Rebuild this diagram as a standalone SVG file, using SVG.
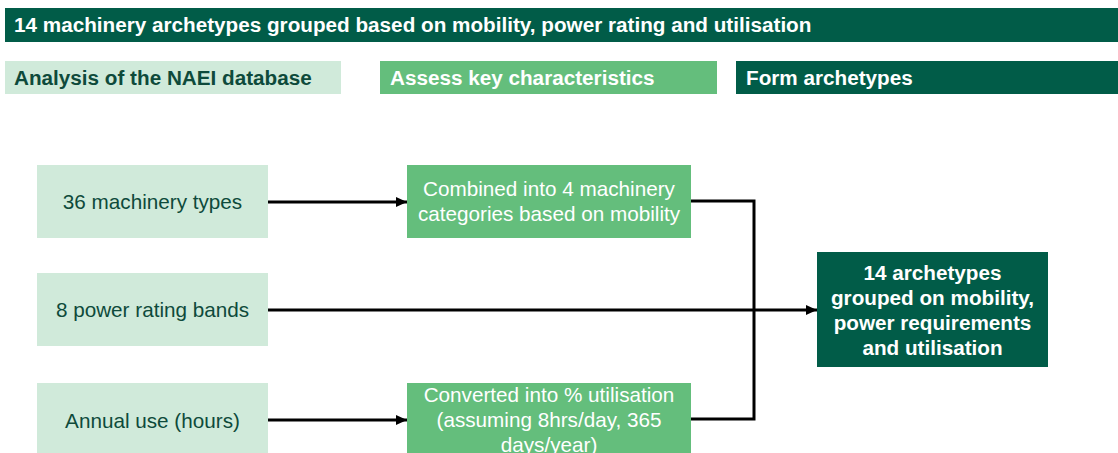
<svg xmlns="http://www.w3.org/2000/svg" width="1118" height="453" viewBox="0 0 1118 453">
  <defs>
    <marker id="arrow" viewBox="0 0 11 10" refX="11" refY="5" markerWidth="11" markerHeight="10" markerUnits="userSpaceOnUse" orient="auto">
      <path d="M0,0 L11,5 L0,10 Z" fill="#000"/>
    </marker>
    <style>
      text { font-family: "Liberation Sans", Arial, sans-serif; font-size: 20.7px; }
      .dark { fill: #015C48; }
      .light { fill: #D0EADA; }
      .mid { fill: #64BE7C; }
      .bold { font-weight: bold; }
      .tdark { fill: #0E4A3B; }
      .twhite { fill: #FFFFFF; }
      .c { text-anchor: middle; }
      .wire { fill: none; stroke: #000; stroke-width: 3; }
    </style>
  </defs>

  <!-- Title banner -->
  <g id="title">
    <rect class="dark" x="5" y="8" width="1113" height="34"/>
    <text class="bold twhite" x="14" y="32">14 machinery archetypes grouped based on mobility, power rating and utilisation</text>
  </g>

  <!-- Stage headers -->
  <g id="stage-analysis">
    <rect class="light" x="5" y="61" width="336" height="33"/>
    <text class="bold tdark" x="14" y="85">Analysis of the NAEI database</text>
  </g>
  <g id="stage-assess">
    <rect class="mid" x="380" y="61" width="337" height="33"/>
    <text class="bold twhite" x="390" y="85">Assess key characteristics</text>
  </g>
  <g id="stage-form">
    <rect class="dark" x="736" y="61" width="382" height="33"/>
    <text class="bold twhite" x="746" y="85">Form archetypes</text>
  </g>

  <!-- Input nodes -->
  <g id="machinery-types">
    <rect class="light" x="37" y="165" width="231" height="73"/>
    <text class="tdark c" x="152.5" y="209">36 machinery types</text>
  </g>
  <g id="power-bands">
    <rect class="light" x="37" y="273" width="231" height="73"/>
    <text class="tdark c" x="152.5" y="317">8 power rating bands</text>
  </g>
  <g id="annual-use">
    <rect class="light" x="37" y="383" width="231" height="80"/>
    <text class="tdark c" x="152.5" y="428">Annual use (hours)</text>
  </g>

  <!-- Processing nodes -->
  <g id="combined">
    <rect class="mid" x="407" y="165" width="284" height="73"/>
    <text class="twhite c" x="549" y="196">Combined into 4 machinery</text>
    <text class="twhite c" x="549" y="221">categories based on mobility</text>
  </g>
  <g id="converted">
    <rect class="mid" x="407" y="383" width="284" height="80"/>
    <text class="twhite c" x="549" y="402">Converted into % utilisation</text>
    <text class="twhite c" x="549" y="427">(assuming 8hrs/day, 365</text>
    <text class="twhite c" x="549" y="452">days/year)</text>
  </g>

  <!-- Output node -->
  <g id="archetypes">
    <rect class="dark" x="817" y="252" width="231" height="115"/>
    <text class="bold twhite c" x="932.5" y="280">14 archetypes</text>
    <text class="bold twhite c" x="932.5" y="305">grouped on mobility,</text>
    <text class="bold twhite c" x="932.5" y="330">power requirements</text>
    <text class="bold twhite c" x="932.5" y="355">and utilisation</text>
  </g>

  <!-- Connectors -->
  <g id="connectors">
    <line class="wire" x1="268" y1="202" x2="407" y2="202" marker-end="url(#arrow)"/>
    <line class="wire" x1="268" y1="420" x2="407" y2="420" marker-end="url(#arrow)"/>
    <line class="wire" x1="268" y1="310" x2="817" y2="310" marker-end="url(#arrow)"/>
    <polyline class="wire" points="691,201 754,201 754,419 691,419"/>
  </g>
</svg>
